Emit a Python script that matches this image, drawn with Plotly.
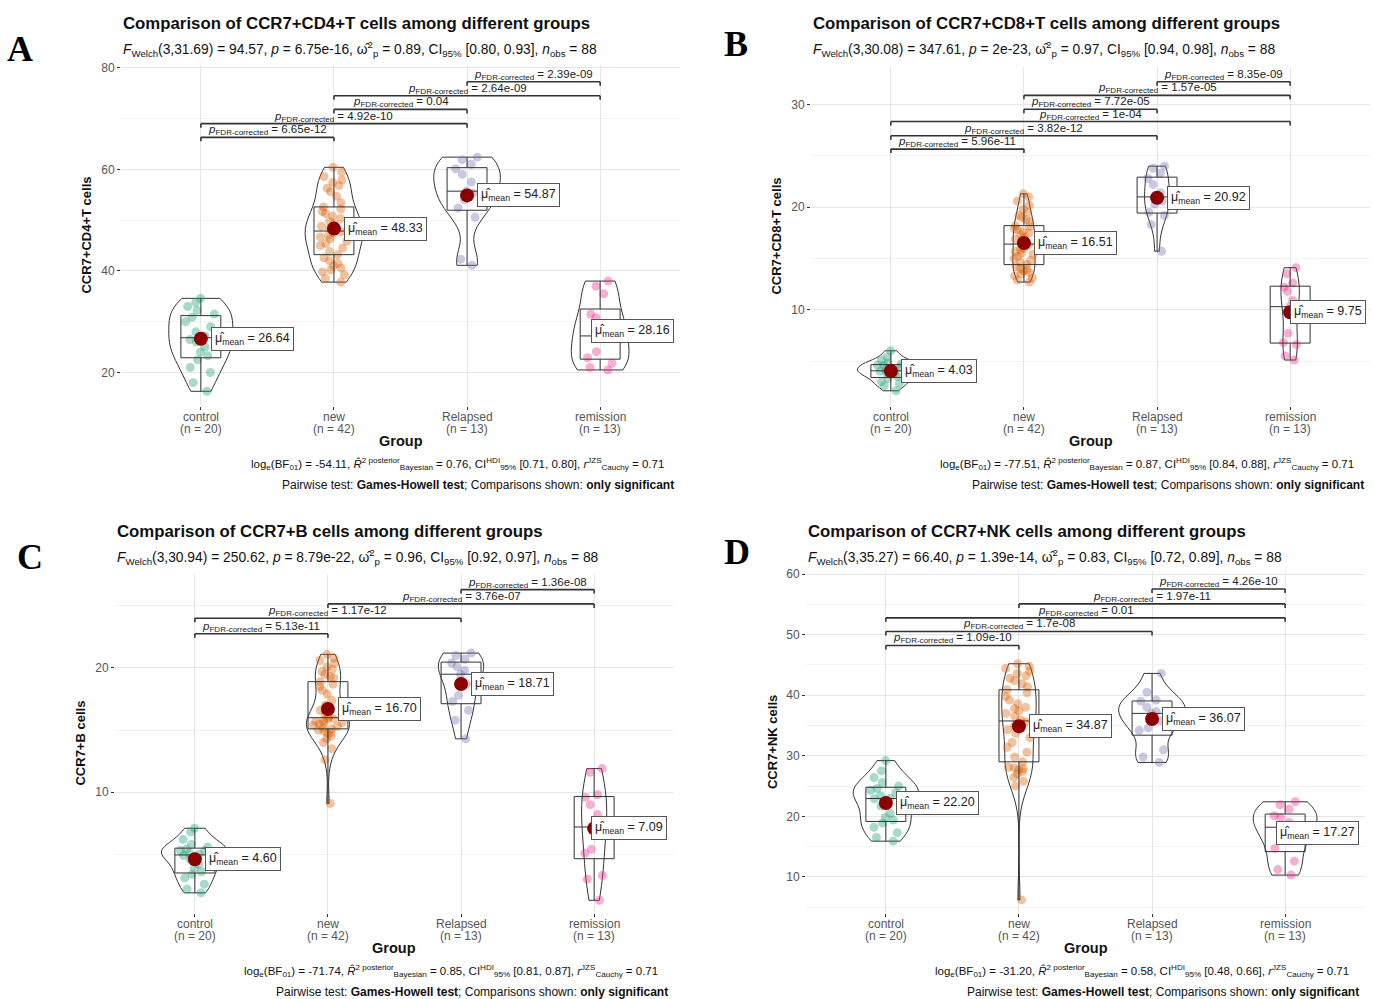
import numpy as np
import plotly.graph_objects as go

W, H = 1374, 999
FONT = "Liberation Sans, Arial, sans-serif"

groups = ["control", "new", "Relapsed", "remission"]
group_n = [20, 42, 13, 13]
point_colors = ["rgba(27,158,119,0.38)", "rgba(217,95,2,0.38)",
                "rgba(117,112,179,0.38)", "rgba(231,41,138,0.38)"]

# ---------------- Panel A : CCR7+CD4+T ----------------
A_control = [16.3, 18.0, 20.0, 21.0, 22.5, 23.3, 24.0, 25.0, 26.0, 26.5,
             27.2, 28.0, 29.0, 30.0, 30.9, 31.5, 32.2, 33.0, 33.8, 34.6]
A_new = [37.8, 38.5, 39.2, 39.8, 40.2, 40.6, 41.0, 41.5, 42.0, 42.6,
         43.2, 43.8, 44.5, 45.0, 45.4, 45.9, 46.3, 46.7, 47.0, 47.4, 47.7,
         48.0, 48.4, 48.8, 49.3, 49.8, 50.3, 50.8, 51.3, 51.7, 52.2, 52.6,
         53.4, 54.7, 55.6, 56.3, 56.8, 57.4, 57.9, 58.6, 59.5, 60.4]
A_relapsed = [41.1, 42.3, 50.6, 52.4, 54.0, 55.3, 55.7, 57.5, 59.0, 60.1, 61.0, 61.9, 62.4]
A_remission = [20.5, 21.0, 21.8, 22.9, 24.1, 26.8, 27.2, 29.0, 30.8, 31.5, 35.5, 37.0, 38.0]
A_means = [26.64, 48.33, 54.87, 28.16]
A_pairs = [("Relapsed", "remission"), ("new", "remission"), ("new", "Relapsed"),
           ("control", "Relapsed"), ("control", "new")]
A_pvals = ["2.39e-09", "2.64e-09", "0.04", "4.92e-10", "6.65e-12"]
A_bracket_y = [77.25, 74.5, 71.8, 69.0, 66.3]

# ---------------- Panel B : CCR7+CD8+T ----------------
B_control = [2.1, 2.6, 2.8, 3.0, 3.3, 3.5, 3.7, 3.8, 3.9, 4.0,
             4.1, 4.2, 4.4, 4.6, 4.6, 4.7, 4.8, 5.1, 5.4, 6.0]
B_new = [12.7, 12.9, 13.1, 13.3, 13.5, 13.6, 13.8, 13.9, 14.0, 14.2,
         14.4, 14.6, 14.8, 15.0, 15.2, 15.4, 15.5, 15.7, 15.9, 16.0, 16.3,
         16.5, 16.7, 16.9, 17.1, 17.3, 17.5, 17.6, 17.8, 17.9, 18.1, 18.2,
         18.6, 18.8, 19.0, 19.2, 19.5, 19.8, 20.2, 20.6, 21.0, 21.3]
B_relapsed = [15.7, 18.3, 19.2, 19.5, 20.3, 20.6, 21.0, 21.4, 22.2, 22.8, 23.3, 23.8, 24.0]
B_remission = [5.1, 5.5, 6.6, 6.8, 7.7, 9.6, 10.3, 10.9, 11.8, 12.2, 12.6, 13.5, 14.1]
B_means = [4.03, 16.51, 20.92, 9.75]
B_pairs = [("Relapsed", "remission"), ("new", "remission"), ("new", "Relapsed"),
           ("control", "remission"), ("control", "Relapsed"), ("control", "new")]
B_pvals = ["8.35e-09", "1.57e-05", "7.72e-05", "1e-04", "3.82e-12", "5.96e-11"]
B_bracket_y = [32.23, 30.9, 29.54, 28.35, 26.96, 25.66]

# ---------------- Panel C : CCR7+B ----------------
C_control = [1.9, 2.2, 2.6, 3.1, 3.4, 3.6, 3.9, 4.2, 4.6, 4.9,
             5.0, 5.1, 5.3, 5.3, 5.4, 5.6, 5.8, 6.2, 6.8, 7.1]
C_new = [9.1, 12.6, 13.5, 14.0, 14.3, 14.5, 14.7, 14.8, 14.9, 15.0,
         15.1, 15.2, 15.3, 15.4, 15.5, 15.6, 15.6, 15.7, 15.8, 15.9, 15.9,
         16.1, 16.3, 16.6, 16.8, 17.0, 17.4, 17.9, 18.2, 18.5, 18.7, 18.9,
         19.2, 19.3, 19.5, 19.7, 19.9, 20.1, 20.4, 20.6, 20.8, 21.1]
C_relapsed = [14.3, 15.8, 16.6, 17.3, 17.8, 18.7, 19.5, 19.8, 20.1, 20.4, 20.7, 21.0, 21.2]
C_remission = [1.3, 3.0, 3.3, 5.1, 5.4, 6.8, 7.2, 8.2, 9.0, 9.6, 9.8, 11.6, 11.9]
C_means = [4.60, 16.70, 18.71, 7.09]
C_pairs = [("Relapsed", "remission"), ("new", "remission"),
           ("control", "Relapsed"), ("control", "new")]
C_pvals = ["1.36e-08", "3.76e-07", "1.17e-12", "5.13e-11"]
C_bracket_y = [26.31, 25.16, 24.01, 22.76]

# ---------------- Panel D : CCR7+NK ----------------
D_control = [15.9, 16.5, 17.3, 18.2, 18.9, 19.4, 19.8, 20.5, 21.7, 22.9,
             23.0, 23.4, 23.9, 24.3, 24.6, 25.0, 25.6, 26.4, 27.5, 29.2]
D_new = [6.2, 25.0, 25.8, 26.4, 27.0, 27.4, 27.7, 27.9, 28.0, 28.1,
         29.0, 29.8, 30.6, 31.4, 32.2, 33.0, 33.7, 34.3, 34.9, 35.3, 35.6,
         35.9, 36.5, 37.0, 37.4, 37.8, 38.0, 38.6, 39.2, 39.8, 40.4, 40.9,
         41.4, 41.9, 42.4, 42.8, 43.2, 43.6, 44.0, 44.4, 44.8, 45.2]
D_relapsed = [28.9, 29.8, 31.0, 34.2, 34.6, 35.8, 37.0, 37.3, 38.0, 39.0, 39.2, 40.5, 43.6]
D_remission = [10.3, 11.2, 12.6, 14.7, 16.1, 17.0, 18.2, 19.0, 19.8, 20.1, 21.2, 21.9, 22.4]
D_means = [22.20, 34.87, 36.07, 17.27]
D_pairs = [("Relapsed", "remission"), ("new", "remission"), ("control", "remission"),
           ("control", "Relapsed"), ("control", "new")]
D_pvals = ["4.26e-10", "1.97e-11", "0.01", "1.7e-08", "1.09e-10"]
D_bracket_y = [57.55, 55.08, 52.78, 50.53, 48.22]

# ---------------- texts ----------------
titles = ["Comparison of CCR7+CD4+T cells among different groups",
          "Comparison of CCR7+CD8+T cells among different groups",
          "Comparison of CCR7+B cells among different groups",
          "Comparison of CCR7+NK cells among different groups"]
ytitles = ["CCR7+CD4+T cells", "CCR7+CD8+T cells", "CCR7+B cells", "CCR7+NK cells"]
welch = [("3,31.69", "94.57", "6.75e-16", "0.89", "[0.80, 0.93]"),
         ("3,30.08", "347.61", "2e-23", "0.97", "[0.94, 0.98]"),
         ("3,30.94", "250.62", "8.79e-22", "0.96", "[0.92, 0.97]"),
         ("3,35.27", "66.40", "1.39e-14", "0.83", "[0.72, 0.89]")]
bayes = [("-54.11", "0.76", "[0.71, 0.80]"),
         ("-77.51", "0.87", "[0.84, 0.88]"),
         ("-71.74", "0.85", "[0.81, 0.87]"),
         ("-31.20", "0.58", "[0.48, 0.66]")]
panel_letters = ["A", "B", "C", "D"]

# ---------------- layout geometry (pixels) ----------------
panels = [
    dict(data=[A_control, A_new, A_relapsed, A_remission], means=A_means, pairs=A_pairs,
         pvals=A_pvals, by=A_bracket_y, px=(121, 680), py=(61, 404), yr=(13.33, 80.59),
         dtick=20, minor=10, rem_shift=-9, letter=(20, 45), top=20),
    dict(data=[B_control, B_new, B_relapsed, B_remission], means=B_means, pairs=B_pairs,
         pvals=B_pvals, by=B_bracket_y, px=(811, 1370), py=(63, 404), yr=(0.58, 33.69),
         dtick=10, minor=5, rem_shift=0, letter=(736, 40), top=20),
    dict(data=[C_control, C_new, C_relapsed, C_remission], means=C_means, pairs=C_pairs,
         pvals=C_pvals, by=C_bracket_y, px=(115, 674), py=(572, 913), yr=(0.25, 27.59),
         dtick=10, minor=5, rem_shift=-3, letter=(30, 555), top=530),
    dict(data=[D_control, D_new, D_relapsed, D_remission], means=D_means, pairs=D_pairs,
         pvals=D_pvals, by=D_bracket_y, px=(806, 1365), py=(569, 913), yr=(3.98, 60.56),
         dtick=10, minor=5, rem_shift=-9, letter=(737, 550), top=530),
]


def nrd0(vals):
    """R's default bandwidth (bw.nrd0), as used by ggplot's violins."""
    v = np.asarray(vals, float)
    q1, q3 = np.percentile(v, [25, 75])
    lo = min(v.std(ddof=1), (q3 - q1) / 1.34)
    return 0.9 * lo * len(v) ** -0.2


def kde_peak(vals, bw):
    v = np.asarray(vals, float)
    t = np.linspace(v.min(), v.max(), 400)
    dens = np.exp(-0.5 * ((t[:, None] - v[None, :]) / bw) ** 2).sum(1)
    return (dens / (len(v) * bw * np.sqrt(2 * np.pi))).max()


fig = go.Figure()
shapes, annotations = [], []
layout_axes = {}


def px_x(x):
    return x / W


def px_y(y):
    return 1 - y / H


def note(x, y, text, size, bold=False, xanchor="center", color="#111111", **kw):
    annotations.append(dict(x=px_x(x), y=px_y(y), xref="paper", yref="paper",
                            xanchor=xanchor, yanchor="middle", showarrow=False,
                            text=f"<b>{text}</b>" if bold else text,
                            font=dict(family=kw.pop("family", FONT), size=size, color=color),
                            **kw))


for k, p in enumerate(panels):
    sfx = "" if k == 0 else str(k + 1)
    xr, yr = "x" + sfx, "y" + sfx
    bws = [nrd0(v) for v in p["data"]]
    peaks = [kde_peak(v, b) for v, b in zip(p["data"], bws)]
    for gi, g in enumerate(groups):
        vals = p["data"][gi]
        vw = 0.5 * peaks[gi] / max(peaks)
        fig.add_trace(go.Box(x=[g] * len(vals), y=vals, xaxis=xr, yaxis=yr, width=0.3,
                             boxpoints=False, fillcolor="rgba(0,0,0,0)",
                             line=dict(color="#333333", width=1), whiskerwidth=0,
                             showlegend=False, hoverinfo="skip"))
        fig.add_trace(go.Violin(x=[g] * len(vals), y=vals, xaxis=xr, yaxis=yr,
                                width=vw, bandwidth=bws[gi],
                                scalemode="width", spanmode="hard",
                                fillcolor="rgba(0,0,0,0)",
                                line=dict(color="#333333", width=1),
                                points="all", pointpos=0,
                                jitter=min(1.0, 0.24 / vw),
                                marker=dict(color=point_colors[gi], size=9, line=dict(width=0)),
                                box_visible=False, meanline_visible=False,
                                showlegend=False, hoverinfo="skip"))
        fig.add_trace(go.Scatter(x=[g], y=[p["means"][gi]], xaxis=xr, yaxis=yr, mode="markers",
                                 marker=dict(color="#8B0000", size=14),
                                 showlegend=False, hoverinfo="skip"))
        annotations.append(dict(
            x=gi, y=p["means"][gi], xref=xr, yref=yr, xanchor="left", yanchor="middle",
            xshift=(p["rem_shift"] if g == "remission" else 10), showarrow=False,
            text=f"\u03bc\u0302<sub>mean</sub> = {p['means'][gi]:.2f}",
            font=dict(family=FONT, size=12.5, color="#222222"),
            bgcolor="white", bordercolor="#555555", borderwidth=1, borderpad=3))

    # pairwise brackets
    for (g1, g2), pv, yv in zip(p["pairs"], p["pvals"], p["by"]):
        i, j = groups.index(g1), groups.index(g2)
        lc = dict(color="#333333", width=1.6)
        shapes.append(dict(type="line", xref=xr, yref=yr, x0=i, x1=j, y0=yv, y1=yv, line=lc))
        for xx in (i, j):
            shapes.append(dict(type="line", xref=xr, yref=yr, x0=xx, x1=xx,
                               ysizemode="pixel", yanchor=yv, y0=-4, y1=0, line=lc))
        annotations.append(dict(
            x=(i + j) / 2, y=yv, xref=xr, yref=yr, xanchor="center", yanchor="bottom",
            showarrow=False, yshift=-2, text=f"<i>p</i><sub>FDR-corrected</sub> = {pv}",
            font=dict(family=FONT, size=11.5, color="#222222")))

    x0, x1 = p["px"]
    ytop, ybot = p["py"]
    layout_axes["xaxis" + sfx] = dict(
        domain=[px_x(x0), px_x(x1)], anchor=yr, type="category",
        categoryorder="array", categoryarray=groups, range=[-0.6, 3.6],
        showticklabels=False, showgrid=True, gridcolor="#e6e6e6",
        gridwidth=1, ticks="outside", ticklen=3, tickcolor="#333333", zeroline=False,
        showline=False)
    layout_axes["yaxis" + sfx] = dict(
        domain=[px_y(ybot), px_y(ytop)], anchor=xr, range=list(p["yr"]), tick0=0,
        dtick=p["dtick"], showgrid=True, gridcolor="#e6e6e6", gridwidth=1,
        minor=dict(dtick=p["minor"], tick0=0, showgrid=True, gridcolor="#f3f3f3", gridwidth=1),
        ticks="outside", ticklen=3, tickcolor="#333333", zeroline=False, showline=False,
        tickfont=dict(family=FONT, size=12, color="#555555"))

    # category labels with group sizes
    span = (x1 - x0) / 4.2
    for gi, (g, n) in enumerate(zip(groups, group_n)):
        gx = x0 + (gi + 0.6) * span
        note(gx, ybot + 11, g, 12, color="#555555")
        note(gx, ybot + 23, f"(n = {n})", 12, color="#555555")

    cx = (x0 + x1) / 2
    cy = (ytop + ybot) / 2
    top = p["top"]
    lx, ly = p["letter"]
    note(lx, ly, panel_letters[k], 36, bold=True, color="black",
         family="Liberation Serif, Times New Roman, serif")
    note(x0, top, titles[k], 16.8, bold=True, xanchor="left")
    dfv, fv, pv, om, ci = welch[k]
    sub = (f"<i>F</i><sub>Welch</sub>({dfv}) = {fv}, <i>p</i> = {pv}, "
           f"\u03c9\u0302<sup>2</sup><sub>p</sub> = {om}, CI<sub>95%</sub> {ci}, "
           f"<i>n</i><sub>obs</sub> = 88")
    note(x0, top + 25, sub, 13.8, xanchor="left")
    note(x0 - 34, cy, ytitles[k], 13, bold=True, textangle=-90)
    note(cx, ybot + 35, "Group", 14.5, bold=True)
    bf, r2, hdi = bayes[k]
    cap1 = (f"log<sub>e</sub>(BF<sub>01</sub>) = {bf}, <i>R\u0302</i><sup>2 posterior</sup>"
            f"<sub>Bayesian</sub> = {r2}, CI<sup>HDI</sup><sub>95%</sub> {hdi}, "
            f"<i>r</i><sup>JZS</sup><sub>Cauchy</sub> = 0.71")
    cap2 = ("Pairwise test: <b>Games-Howell test</b>; Comparisons shown: "
            "<b>only significant</b>")
    note(x1 - 14, ybot + 58, cap1, 11.5, xanchor="right")
    note(x1 - 4, ybot + 79, cap2, 12, xanchor="right")

fig.update_layout(width=W, height=H, margin=dict(l=0, r=0, t=0, b=0),
                  paper_bgcolor="white", plot_bgcolor="white",
                  violinmode="overlay", boxmode="overlay", showlegend=False,
                  shapes=shapes, annotations=annotations, **layout_axes)
fig.write_html("out.html", config={"displayModeBar": False},
               post_script="document.body.style.margin='0px';"
                           "document.body.style.overflow='hidden';")
